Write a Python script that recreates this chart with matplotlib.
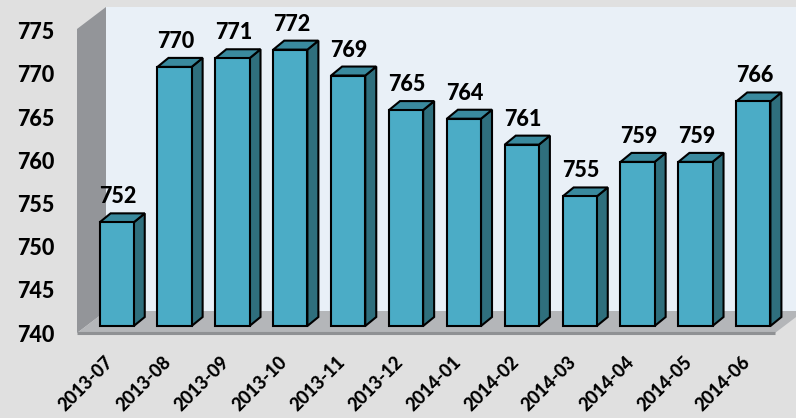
import numpy as np
import matplotlib.pyplot as plt
from matplotlib.patches import Polygon
from matplotlib.transforms import offset_copy

# data
months = ['2013-07', '2013-08', '2013-09', '2013-10', '2013-11', '2013-12',
          '2014-01', '2014-02', '2014-03', '2014-04', '2014-05', '2014-06']
values = [752, 770, 771, 772, 769, 765, 764, 761, 755, 759, 759, 766]
y_ticks = [740, 745, 750, 755, 760, 765, 770, 775]

plt.rcParams['font.family'] = ['Lato', 'DejaVu Sans']

fig = plt.figure(figsize=(7.96, 4.18), dpi=100)
fig.patch.set_facecolor('#e0e0e0')

ax = fig.add_axes([77 / 796, 85 / 418, 698 / 796, 304 / 418])
x0, x1 = -0.53, 11.53
y0, y1 = 740, 775.2
ax.set_xlim(x0, x1)
ax.set_ylim(y0, y1)
ax.set_facecolor('none')
for s in ax.spines.values():
    s.set_visible(False)


def shift(x, y, dx, dy):
    # move a data point by some pixels (depth of the 3d look)
    X, Y = ax.transData.transform((x, y))
    return ax.transData.inverted().transform((X + dx, Y + dy))


depth = (29, 22)      # floor depth in pixels
bar_off = (9, 7)      # front face of the bars
bar_d = (11, 9)       # depth of one bar

# walls and floor
back = [shift(x0, y0, *depth), shift(x1, y0, *depth),
        shift(x1, y1, *depth), shift(x0, y1, *depth)]
ax.add_patch(Polygon(back, closed=True, facecolor='#e9f0f7', edgecolor='none',
                     zorder=0, clip_on=False))
side = [(x0, y0), shift(x0, y0, *depth), shift(x0, y1, *depth), (x0, y1)]
ax.add_patch(Polygon(side, closed=True, facecolor='#939599', edgecolor='none',
                     zorder=0.5, clip_on=False))
floor = [(x0, y0), (x1, y0), shift(x1, y0, *depth), shift(x0, y0, *depth)]
ax.add_patch(Polygon(floor, closed=True, facecolor='#b4b6b9', edgecolor='none',
                     zorder=0.6, clip_on=False))
ax.plot([x0, x1], [y0, y0], color='#8f9194', lw=2.2, zorder=0.7,
        solid_capstyle='butt', clip_on=False)

# bars
x = np.arange(len(values))
w = 0.59
front = offset_copy(ax.transData, fig=fig, x=bar_off[0], y=bar_off[1], units='dots')
ax.bar(x, np.array(values) - y0, bottom=y0, width=w, color='#4bacc6',
       edgecolor='black', linewidth=1.5, transform=front, zorder=3, clip_on=False)

bx, by = bar_off
dx, dy = bar_d
for xi, v in zip(x, values):
    l, r = xi - w / 2, xi + w / 2
    right = [shift(r, y0, bx, by), shift(r, y0, bx + dx, by + dy),
             shift(r, v, bx + dx, by + dy), shift(r, v, bx, by)]
    ax.add_patch(Polygon(right, closed=True, facecolor='#2f6f7d',
                         edgecolor='black', lw=1.5, zorder=2, clip_on=False))
    top = [shift(l, v, bx, by), shift(r, v, bx, by),
           shift(r, v, bx + dx, by + dy), shift(l, v, bx + dx, by + dy)]
    ax.add_patch(Polygon(top, closed=True, facecolor='#3a8a9e',
                         edgecolor='black', lw=1.5, zorder=2, clip_on=False))
    ax.annotate(str(v), (xi, v), xytext=(bx + 1, by + 19),
                textcoords='offset pixels', ha='center', va='baseline',
                fontsize=15.5, fontweight='black', color='black', zorder=5)

ax.set_yticks(y_ticks)
ax.set_yticklabels([str(t) for t in y_ticks], fontsize=15.5, fontweight='black')
ax.tick_params(axis='y', length=0, pad=16)

# category labels, rotated, end of the text centred under each bar
ax.set_xticks(x)
ax.set_xticklabels([])
ax.tick_params(axis='x', length=0)
lab_tr = offset_copy(ax.transData, fig=fig, x=3, y=-26, units='dots')
for xi, m in zip(x, months):
    ax.text(xi, y0, m, transform=lab_tr, rotation=45, rotation_mode='anchor',
            ha='right', va='center', fontsize=13, fontweight='black',
            clip_on=False)

fig.savefig('out.png', dpi=100, facecolor=fig.get_facecolor())
